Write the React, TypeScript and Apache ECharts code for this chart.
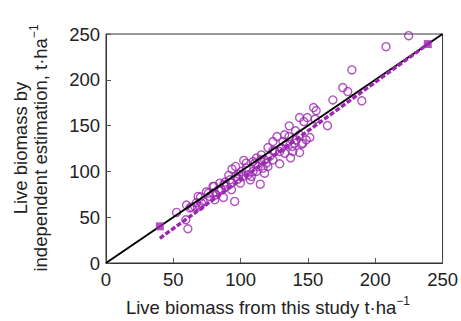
import React, { useEffect, useRef } from "react";
import * as echarts from "echarts";

const xTicks = [0, 50, 100, 150, 200, 250];
const yTicks = [0, 50, 100, 150, 200, 250];

const obsX = [
  224.8, 208, 182.6, 175.9, 179.6, 190, 168.5, 164.5, 154.2, 156.1, 143.8, 149.5, 147, 155.4, 136.1,
  140.8, 151.4, 145.3, 143.8, 137.1, 127, 131.4, 135.9, 120.3, 124, 129, 117.8, 114.6, 115.4, 110.7,
  102.3, 96.3, 93.6, 91.2, 88.4, 98.6, 104.2, 107.2, 99.8, 95.6, 87.2, 83.5, 80.3, 74.6, 70.2,
  67.2, 70.9, 63.5, 59.8, 52.4, 59.3, 60.8, 77.1, 93.2, 98.1, 101.8, 109.2, 112.9, 117.8, 121.5,
  125.2, 130.2, 133.9, 138.3, 141.3, 143.8, 146.2, 138.8, 132.7, 124, 119.1, 116.6, 111.7, 105.5, 100.5,
  89.4, 85.7, 79.5, 80.8, 72.1, 66, 129, 132.7, 140.1, 148.7, 109.2, 114.9, 120.3, 104.2, 96.3,
  91.9, 84.5, 82, 68.4, 62.3, 69.7, 124, 111.7, 108, 93.1, 87.5, 76.1, 79.5,
];
const obsY = [
  248.2, 236.2, 210.8, 191.5, 187.1, 177, 178, 150, 169.7, 166.4, 158.8, 158.8, 154.4, 157, 149.7,
  144.3, 137, 129.7, 120.6, 114.8, 138, 132.6, 138, 126, 122.8, 108.3, 98.1, 86.1, 118, 109,
  112, 105.4, 102.5, 95.6, 88.3, 97, 103.6, 90.8, 87.2, 67.2, 71.6, 80, 83.6, 77.8, 72,
  65.8, 65.4, 61, 63.2, 55.2, 47.2, 37.4, 72.7, 80, 91.6, 94.5, 99.9, 105.4, 112.6, 116.3,
  121.7, 125.4, 129, 127.2, 134.4, 139.9, 130.8, 121.7, 119.9, 112.6, 109, 103.6, 99.9, 96.3, 99.9,
  83.6, 79.9, 76.3, 69, 67.2, 61.8, 121.7, 139.9, 130.8, 134.4, 110.8, 112.6, 105.4, 109, 94.5,
  90.8, 87.2, 74.5, 72.7, 60, 61.8, 132.6, 114.5, 94.5, 87.2, 85.4, 76.3, 83.6,
];
const oneToOneX = [0, 250];
const oneToOneY = [0, 250];
const fitX = [40, 240];
const fitY = [27, 240];
const markerX = [40, 239];
const markerY = [40, 239];

const PURPLE = "#9c27b0";
const FONT = "'Liberation Sans', Arial, Helvetica, sans-serif";
const FS = 18.5;

export default function App() {
  const ref = useRef<HTMLDivElement>(null);
  useEffect(() => {
    if (!ref.current) return;
    const chart = echarts.init(ref.current, undefined, { renderer: "svg" });
    const scatter = obsX.map((x, i) => [x, obsY[i]]);
    const sup = { fontSize: 12, fontFamily: FONT, fill: "#222", verticalAlign: "top", lineHeight: 24 };
    chart.setOption({
      animation: false,
      grid: {
        left: 106,
        right: 18,
        top: 34,
        bottom: 58,
        show: true,
        borderColor: "#333",
        borderWidth: 1,
      },
      xAxis: {
        type: "value",
        min: xTicks[0],
        max: xTicks[xTicks.length - 1],
        interval: 50,
        axisLine: { show: true, lineStyle: { color: "#333", width: 1 } },
        axisTick: { show: true, inside: true, length: 5, lineStyle: { color: "#555" } },
        axisLabel: { color: "#222", fontSize: FS, fontFamily: FONT, margin: 7 },
        splitLine: { show: false },
      },
      yAxis: {
        type: "value",
        min: yTicks[0],
        max: yTicks[yTicks.length - 1],
        interval: 50,
        axisLine: { show: true, lineStyle: { color: "#333", width: 1 } },
        axisTick: { show: true, inside: true, length: 5, lineStyle: { color: "#555" } },
        axisLabel: { color: "#222", fontSize: FS, fontFamily: FONT, margin: 6 },
        splitLine: { show: false },
      },
      graphic: [
        {
          type: "text",
          x: 268,
          y: 307,
          style: {
            text: "Live biomass from this study t·ha{sup|−1}",
            fontSize: FS,
            fontFamily: FONT,
            fill: "#222",
            textAlign: "center",
            textVerticalAlign: "middle",
            rich: { sup },
          },
        },
        {
          type: "text",
          x: 20,
          y: 148,
          rotation: Math.PI / 2,
          style: {
            text: "Live biomass by",
            fontSize: FS,
            fontFamily: FONT,
            fill: "#222",
            textAlign: "center",
            textVerticalAlign: "middle",
          },
        },
        {
          type: "text",
          x: 40,
          y: 148,
          rotation: Math.PI / 2,
          style: {
            text: "independent estimation, t·ha{sup|−1}",
            fontSize: FS,
            fontFamily: FONT,
            fill: "#222",
            textAlign: "center",
            textVerticalAlign: "middle",
            rich: { sup },
          },
        },
      ],
      series: [
        {
          type: "scatter",
          data: scatter,
          symbol: "circle",
          symbolSize: 8,
          itemStyle: { color: "rgba(0,0,0,0)", borderColor: PURPLE, borderWidth: 1.4 },
          z: 2,
        },
        {
          type: "line",
          data: oneToOneX.map((x, i) => [x, oneToOneY[i]]),
          symbol: "none",
          lineStyle: { color: "#000", width: 2 },
          z: 3,
        },
        {
          type: "line",
          data: fitX.map((x, i) => [x, fitY[i]]),
          symbol: "none",
          lineStyle: { color: PURPLE, width: 3.4, type: [5, 2] },
          z: 4,
        },
        {
          type: "scatter",
          data: markerX.map((x, i) => [x, markerY[i]]),
          symbol: "rect",
          symbolSize: 8,
          itemStyle: { color: PURPLE },
          z: 5,
        },
      ],
    });
    return () => chart.dispose();
  }, []);
  return <div ref={ref} style={{ width: 461, height: 321, position: "absolute", left: 0, top: 0 }} />;
}
